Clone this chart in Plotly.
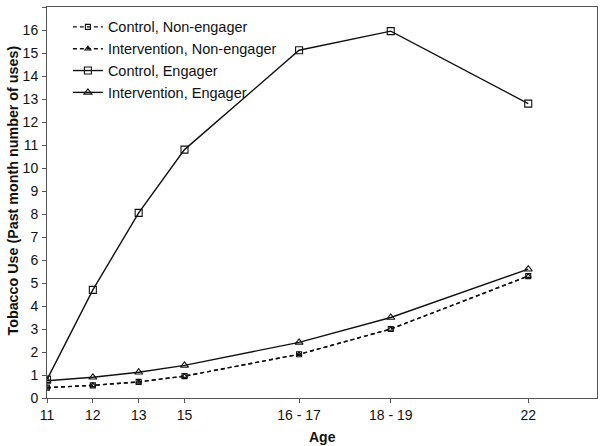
import plotly.graph_objects as go

age_labels = ["11", "12", "13", "15", "16 - 17", "18 - 19", "22"]
age_pos = [0, 1, 2, 3, 5.5, 7.5, 10.5]

control_nonengager = [0.45, 0.55, 0.70, 0.95, 1.90, 3.00, 5.30]
intervention_nonengager = [0.45, 0.55, 0.70, 0.95, 1.90, 3.00, 5.30]
control_engager = [0.80, 4.70, 8.05, 10.80, 15.12, 15.95, 12.80]
intervention_engager = [0.75, 0.90, 1.12, 1.42, 2.42, 3.50, 5.60]

series = [
    ("Control, Non-engager", control_nonengager, "square-open", "4px,3px", 5),
    ("Intervention, Non-engager", intervention_nonengager, "triangle-up-open", "4px,3px", 5),
    ("Control, Engager", control_engager, "square-open", "solid", 7),
    ("Intervention, Engager", intervention_engager, "triangle-up-open", "solid", 7),
]

fig = go.Figure()
for name, vals, sym, dash, ms in series:
    fig.add_trace(go.Scatter(
        x=age_pos, y=vals, name=name, mode="lines+markers",
        line=dict(color="#111111", width=1.4, dash=dash),
        marker=dict(symbol=sym, size=ms, color="#111111", line=dict(width=1.1, color="#111111")),
    ))

font_family = "Arial, Liberation Sans, sans-serif"
fig.update_layout(
    width=600, height=446,
    margin=dict(l=47, r=3, t=7, b=48, autoexpand=False),
    paper_bgcolor="white", plot_bgcolor="white",
    font=dict(family=font_family, size=14, color="#111111"),
    showlegend=True,
    legend=dict(x=0.038, y=0.99, xanchor="left", yanchor="top",
                bgcolor="rgba(0,0,0,0)", font=dict(size=14.5),
                tracegroupgap=0, itemwidth=30),
    xaxis=dict(
        range=[0, 12], tickmode="array", tickvals=age_pos, ticktext=age_labels,
        showgrid=False, zeroline=False, showline=True, linecolor="#555555", linewidth=1,
        mirror=True, ticks="outside", ticklen=4, tickcolor="#555555",
        tickfont=dict(size=14), automargin=False,
    ),
    yaxis=dict(
        range=[0, 17], tickmode="linear", tick0=0, dtick=1,
        showgrid=False, zeroline=False, showline=True, linecolor="#555555", linewidth=1,
        mirror=True, ticks="outside", ticklen=4, tickcolor="#555555",
        tickfont=dict(size=14), automargin=False, ticklabelstandoff=1,
    ),
    annotations=[
        dict(text="<b>Age</b>", xref="paper", yref="paper", x=0.5, y=0,
             xanchor="center", yanchor="middle", yshift=-39, showarrow=False,
             font=dict(size=14)),
        dict(text="<b>Tobacco Use (Past month number of uses)</b>", xref="paper", yref="paper",
             x=0, y=0.5, xanchor="center", yanchor="middle", xshift=-35, yshift=12,
             textangle=-90, showarrow=False, font=dict(size=14.3)),
    ],
)

fig.write_html("out.html", config={"displayModeBar": False},
               post_script="document.body.style.margin='0';document.body.style.overflow='hidden';")
